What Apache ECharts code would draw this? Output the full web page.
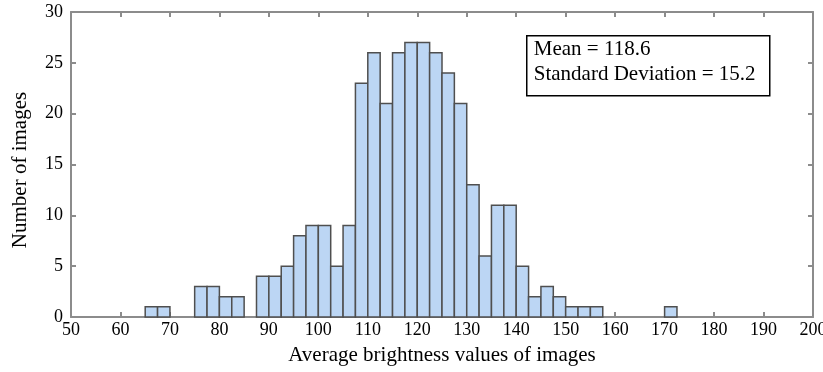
<!DOCTYPE html>
<html>
<head>
<meta charset="utf-8">
<script src="https://cdn.jsdelivr.net/npm/echarts@6/dist/echarts.min.js"></script>
<style>html,body{margin:0;padding:0;background:#fff}#c{width:823px;height:372px}</style>
</head>
<body>
<div id="c"></div>
<script>
// Histogram bins (left edges) and counts
const binWidth = 2.5;
const binStarts = [65, 67.5, 70, 72.5, 75, 77.5, 80, 82.5, 85, 87.5, 90, 92.5, 95, 97.5, 100, 102.5, 105, 107.5, 110, 112.5, 115, 117.5, 120, 122.5, 125, 127.5, 130, 132.5, 135, 137.5, 140, 142.5, 145, 147.5, 150, 152.5, 155, 157.5, 160, 162.5, 165, 167.5, 170];
const counts =    [1,  1,    0,  0,    3,  3,    2,  2,    0,  4,    4,  5,    8,  9,    9,   5,     9,   23,    26,  21,    26,  27,    27,  26,    24,  21,    13,  6,     11,  11,    5,   2,     3,   2,     1,   1,     1,   0,     0,   0,     0,   0,     1];
const xTicks = [50, 60, 70, 80, 90, 100, 110, 120, 130, 140, 150, 160, 170, 180, 190, 200];
const yTicks = [0, 5, 10, 15, 20, 25, 30];
const statsLines = ['Mean = 118.6', 'Standard Deviation = 15.2'];
const xTitle = 'Average brightness values of images';
const yTitle = 'Number of images';

const font = '"Liberation Serif", "Times New Roman", serif';
const axisGray = '#8c8c8c';

const histData = binStarts.map((s, i) => [s, s + binWidth, counts[i]]).filter(d => d[2] > 0);

const chart = echarts.init(document.getElementById('c'));
const commonLine = { show: true, onZero: false, lineStyle: { color: axisGray, width: 2 } };
const tick = { show: true, inside: true, length: 5, lineStyle: { color: axisGray, width: 2 } };
chart.setOption({
  animation: false,
  grid: { left: 71, right: 10, top: 12, bottom: 55, show: false, containLabel: false, outerBoundsMode: 'none' },
  xAxis: [{
    type: 'value', min: xTicks[0], max: xTicks[xTicks.length - 1], interval: 10,
    position: 'bottom',
    name: xTitle, nameLocation: 'middle', nameGap: 28,
    nameTextStyle: { fontFamily: font, fontSize: 21, color: '#000', verticalAlign: 'top' },
    axisLine: commonLine,
    axisTick: tick,
    axisLabel: { fontFamily: font, fontSize: 18, color: '#000', margin: 4 },
    splitLine: { show: false }
  }, {
    type: 'value', min: xTicks[0], max: xTicks[xTicks.length - 1], interval: 10,
    position: 'top',
    axisLine: commonLine,
    axisTick: tick,
    axisLabel: { show: false },
    splitLine: { show: false }
  }],
  yAxis: [{
    type: 'value', min: yTicks[0], max: yTicks[yTicks.length - 1], interval: 5,
    position: 'left',
    name: yTitle, nameLocation: 'middle', nameGap: 40,
    nameTextStyle: { fontFamily: font, fontSize: 21, color: '#000', padding: [0, 11, 0, 0] },
    axisLine: commonLine,
    axisTick: tick,
    axisLabel: { fontFamily: font, fontSize: 18, color: '#000', margin: 8 },
    splitLine: { show: false }
  }, {
    type: 'value', min: yTicks[0], max: yTicks[yTicks.length - 1], interval: 5,
    position: 'right',
    axisLine: commonLine,
    axisTick: tick,
    axisLabel: { show: false },
    splitLine: { show: false }
  }],
  series: [{
    type: 'custom',
    xAxisIndex: 0, yAxisIndex: 0,
    data: histData,
    encode: { x: [0, 1], y: 2 },
    renderItem: function (params, api) {
      const p0 = api.coord([api.value(0), api.value(2)]);
      const p1 = api.coord([api.value(1), 0]);
      return {
        type: 'rect',
        shape: { x: p0[0], y: p0[1], width: p1[0] - p0[0], height: p1[1] - p0[1] },
        style: { fill: '#bcd6f4', stroke: '#4f4f4f', lineWidth: 1.5 }
      };
    }
  }],
  graphic: [{
    type: 'group', left: 526, top: 35,
    children: [{
      type: 'rect', shape: { x: 0, y: 0, width: 243, height: 60 },
      style: { fill: '#fff', stroke: '#000', lineWidth: 1.5 }
    }, {
      type: 'text', x: 7, y: 3,
      style: { text: statsLines[0], font: '21px ' + font, fill: '#000' }
    }, {
      type: 'text', x: 7, y: 28,
      style: { text: statsLines[1], font: '21px ' + font, fill: '#000' }
    }]
  }]
});
</script>
</body>
</html>
